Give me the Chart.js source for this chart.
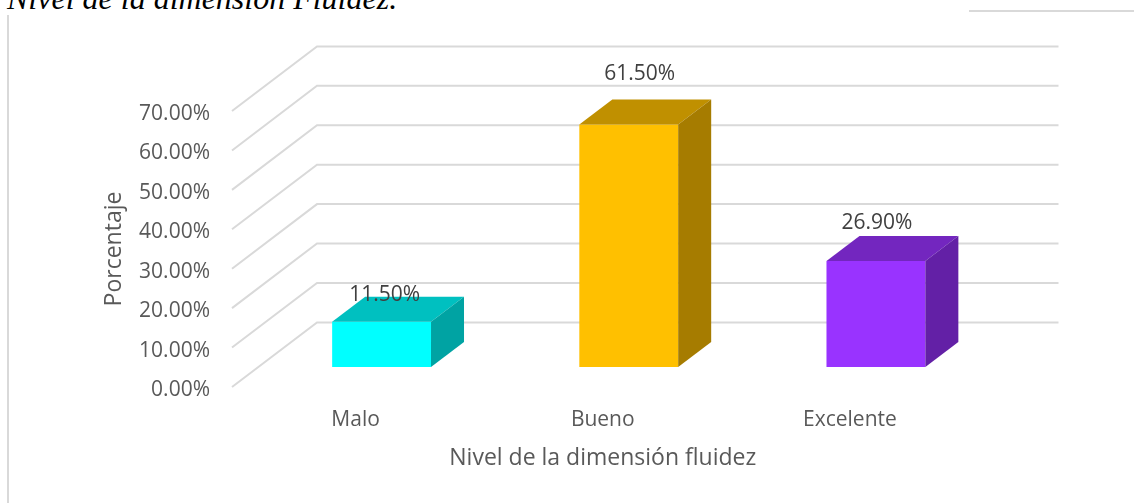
<!DOCTYPE html>
<html>
<head>
<meta charset="utf-8">
<style>
  html, body { margin: 0; padding: 0; background: #fff; overflow: hidden; }
  #wrap { position: relative; width: 1134px; height: 503px; overflow: hidden; }
  #chart { position: absolute; left: 0; top: 0; }
  #caption { position: absolute; left: 7px; top: -20px; font: italic 32px "Liberation Serif", serif; color: #000; white-space: nowrap; }
</style>
<script src="https://cdn.jsdelivr.net/npm/chart.js@4"></script>
</head>
<body>
<div id="wrap">
  <div id="caption">Nivel de la dimensión Fluidez.</div>
  <canvas id="chart" width="1134" height="503"></canvas>
</div>
<script>
const categories = ['Malo', 'Bueno', 'Excelente'];
const porcentajes = [11.5, 61.5, 26.9];
const frontColors = ['#00ffff', '#ffc000', '#9933ff'];
const topColors = ['#00c0c0', '#c09000', '#7326bf'];
const sideColors = ['#00a3a3', '#a67c00', '#6320a6'];

const fontName = '"Open Sans", sans-serif';

// depth of the 3D floor and of the bars, in pixels
const floorDepth = { x: 85, y: -64.6 };
const barShift = { x: 26, y: -20 };
const barDepth = { x: 33, y: -25 };
// the value labels were moved by hand in the original chart
const labelMoves = [{ x: 3, y: -27 }, { x: 11, y: -50 }, { x: 1, y: -38 }];

function face(ctx, color, pts) {
    ctx.fillStyle = color;
    ctx.beginPath();
    ctx.moveTo(pts[0][0], pts[0][1]);
    pts.slice(1).forEach(function (p) { ctx.lineTo(p[0], p[1]); });
    ctx.closePath();
    ctx.fill();
}

const fake3d = {
    id: 'fake3d',
    beforeDatasetsDraw: function (chart) {
        const ctx = chart.ctx;
        const area = chart.chartArea;

        // frame of the chart
        ctx.save();
        ctx.strokeStyle = '#d9d9d9';
        ctx.lineWidth = 2;
        ctx.beginPath();
        ctx.moveTo(8, 15);
        ctx.lineTo(8, 503);
        ctx.moveTo(969, 11);
        ctx.lineTo(1134, 11);
        ctx.stroke();

        // grid lines run over the floor and then along the back wall
        chart.scales.y.ticks.forEach(function (tick) {
            const y = chart.scales.y.getPixelForValue(tick.value);
            ctx.beginPath();
            ctx.moveTo(area.left, y);
            ctx.lineTo(area.left + floorDepth.x, y + floorDepth.y);
            ctx.lineTo(area.right + floorDepth.x, y + floorDepth.y);
            ctx.stroke();
        });
        ctx.restore();

        ctx.save();
        ctx.translate(barShift.x, barShift.y);
    },
    afterDatasetsDraw: function (chart) {
        const ctx = chart.ctx;
        const bars = chart.getDatasetMeta(0).data;
        const dx = barDepth.x;
        const dy = barDepth.y;

        bars.forEach(function (bar, i) {
            const left = bar.x - bar.width / 2;
            const right = bar.x + bar.width / 2;
            face(ctx, topColors[i], [[left, bar.y], [right, bar.y], [right + dx, bar.y + dy], [left + dx, bar.y + dy]]);
            face(ctx, sideColors[i], [[right, bar.y], [right + dx, bar.y + dy], [right + dx, bar.base + dy], [right, bar.base]]);
        });

        ctx.font = '21px ' + fontName;
        ctx.fillStyle = '#404040';
        ctx.textAlign = 'center';
        ctx.textBaseline = 'middle';
        bars.forEach(function (bar, i) {
            ctx.fillText(porcentajes[i].toFixed(2) + '%', bar.x + labelMoves[i].x, bar.y + labelMoves[i].y);
        });
        ctx.restore();
    }
};

new Chart(document.getElementById('chart'), {
    type: 'bar',
    data: {
        labels: categories,
        datasets: [{
            data: porcentajes,
            backgroundColor: frontColors,
            barPercentage: 0.4,
            categoryPercentage: 1
        }]
    },
    options: {
        responsive: false,
        animation: false,
        layout: { padding: { top: 111, right: 160.5, left: 0, bottom: 0 } },
        plugins: { legend: { display: false }, tooltip: { enabled: false } },
        scales: {
            x: {
                grid: { display: false },
                border: { display: false },
                ticks: { color: '#595959', padding: 12, maxRotation: 0, font: { family: fontName, size: 21 } },
                title: {
                    display: true,
                    text: 'Nivel de la dimensión fluidez',
                    color: '#595959',
                    font: { family: fontName, size: 23 },
                    padding: { top: 0, bottom: 31 }
                },
                afterFit: function (scale) { scale.height = 116; }
            },
            y: {
                min: 0,
                max: 70,
                grid: { display: false, drawTicks: false },
                border: { display: false },
                ticks: {
                    stepSize: 10,
                    color: '#595959',
                    padding: 22,
                    labelOffset: 3,
                    font: { family: fontName, size: 21 },
                    callback: function (v) { return v.toFixed(2) + '%'; }
                },
                title: {
                    display: true,
                    text: 'Porcentaje',
                    color: '#595959',
                    font: { family: fontName, size: 23 },
                    padding: { top: 101, bottom: 0 }
                },
                afterFit: function (scale) { scale.width = 232; }
            }
        }
    },
    plugins: [fake3d]
});
</script>
</body>
</html>
